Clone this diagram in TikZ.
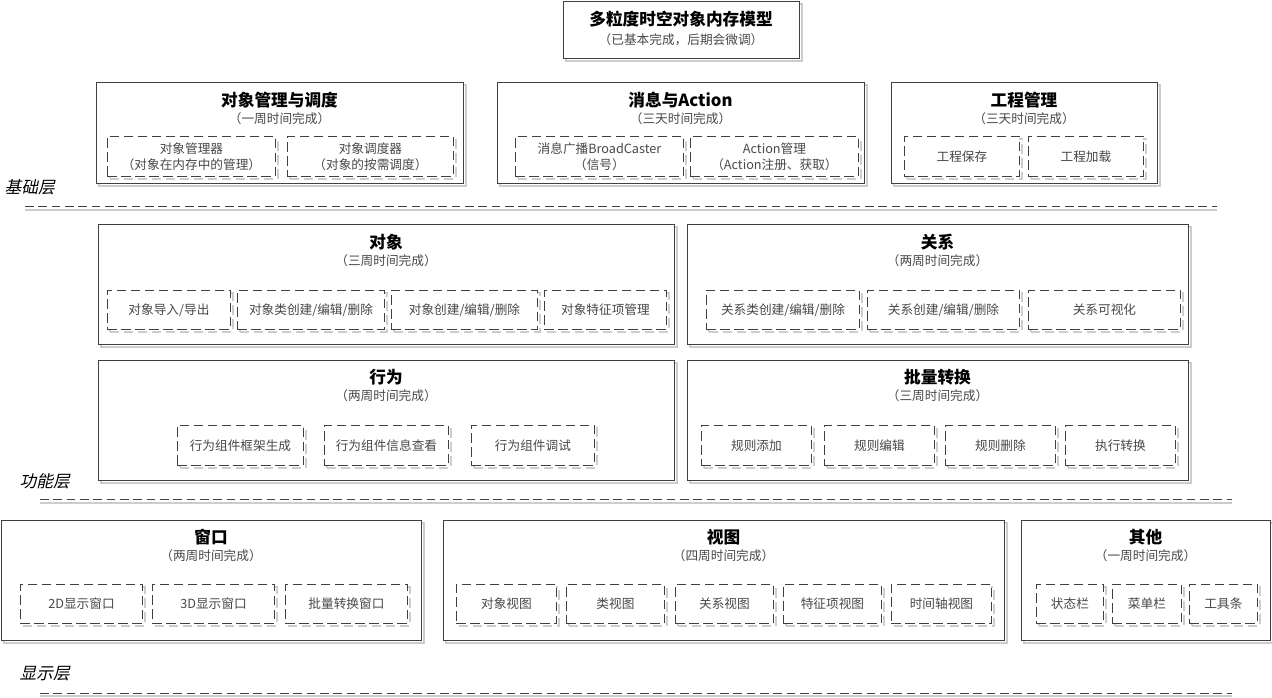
\documentclass[tikz,border=0pt]{standalone}
\usepackage{fontspec}
\setmainfont{Noto Sans CJK SC}
\newfontfamily\tierfont[FakeSlant=0.22]{Noto Sans CJK SC}
\usetikzlibrary{shadows}
\definecolor{edgegray}{RGB}{64,64,64}
\definecolor{shadegray}{RGB}{205,205,205}
\definecolor{notegray}{RGB}{72,72,72}

\begin{document}
\begin{tikzpicture}[
  x=0.75pt, y=-0.75pt,
  boxw/.style={minimum width=#1*0.75pt},
  boxh/.style={minimum height=#1*0.75pt},
  panel/.style={
    draw=edgegray, line width=0.8pt, fill=white, anchor=north west, inner sep=0pt,
    drop shadow={shadow xshift=2pt, shadow yshift=-2pt, fill=none,
      draw=shadegray, line width=1.6pt, opacity=1}
  },
  item/.style={
    draw=edgegray, line width=0.7pt, dash pattern=on 7pt off 3.5pt, fill=white,
    anchor=north west, inner sep=0pt, align=center, text=notegray,
    font=\fontsize{9.5}{12}\selectfont,
    drop shadow={shadow xshift=1.7pt, shadow yshift=-1.7pt, fill=none,
      draw=shadegray, line width=1.4pt, dash pattern=on 7pt off 3.5pt, opacity=1}
  },
  head/.style={font=\bfseries\fontsize{12.5}{15}\selectfont},
  note/.style={font=\fontsize{9.5}{12}\selectfont, text=notegray},
  tier/.style={font=\tierfont\fontsize{12.5}{15}\selectfont, anchor=west},
  tierline/.style={draw=edgegray, line width=0.75pt, dash pattern=on 6.5pt off 3.5pt,
    preaction={draw=shadegray, line width=1.3pt, transform canvas={yshift=-2pt}}}
]
  \useasboundingbox (0,0) rectangle (1272,698);

  % model
  \node[panel, boxw=236, boxh=57] (model) at (563,1) {};
  \node[head] (modelt) at (681,19) {多粒度时空对象内存模型};
  \node[note] (modeln) at (681,40) {（已基本完成，后期会微调）};

  % base tier
  \node[panel, boxw=367, boxh=101] (objmgr) at (96,82) {};
  \node[head] (objmgrt) at (279.5,100) {对象管理与调度};
  \node[note] (objmgrn) at (279.5,119) {（一周时间完成）};
  \node[item, boxw=168, boxh=40] (mgr) at (107,136) {对象管理器\\（对象在内存中的管理）};
  \node[item, boxw=166, boxh=40] (sched) at (287,136) {对象调度器\\（对象的按需调度）};

  \node[panel, boxw=367, boxh=101] (msg) at (497,82) {};
  \node[head] (msgt) at (680.5,100) {消息与Action};
  \node[note] (msgn) at (680.5,119) {（三天时间完成）};
  \node[item, boxw=168, boxh=40] (bcast) at (515,136) {消息广播BroadCaster\\（信号）};
  \node[item, boxw=168, boxh=40] (action) at (690,136) {Action管理\\（Action注册、获取）};

  \node[panel, boxw=266, boxh=101] (proj) at (891,82) {};
  \node[head] (projt) at (1024,100) {工程管理};
  \node[note] (projn) at (1024,119) {（三天时间完成）};
  \node[item, boxw=115, boxh=40] (save) at (904,136) {工程保存};
  \node[item, boxw=115, boxh=40] (load) at (1028,136) {工程加载};

  \node[tier] (base) at (0,187) {基础层};
  \coordinate (basel) at (25,207);
  \coordinate (baser) at (1217,207);
  \draw[tierline] (basel) -- (baser);

  % function tier
  \node[panel, boxw=576, boxh=120] (obj) at (98,224) {};
  \node[head] (objt) at (386,242) {对象};
  \node[note] (objn) at (386,261) {（三周时间完成）};
  \node[item, boxw=123, boxh=39] (imp) at (107,290) {对象导入/导出};
  \node[item, boxw=147, boxh=39] (cls) at (237,290) {对象类创建/编辑/删除};
  \node[item, boxw=146, boxh=39] (inst) at (391,290) {对象创建/编辑/删除};
  \node[item, boxw=122, boxh=39] (feat) at (544,290) {对象特征项管理};

  \node[panel, boxw=501, boxh=120] (rel) at (687,224) {};
  \node[head] (relt) at (937.5,242) {关系};
  \node[note] (reln) at (937.5,261) {（两周时间完成）};
  \node[item, boxw=153, boxh=39] (relcls) at (706,290) {关系类创建/编辑/删除};
  \node[item, boxw=152, boxh=39] (relinst) at (867,290) {关系创建/编辑/删除};
  \node[item, boxw=152, boxh=39] (relvis) at (1028,290) {关系可视化};

  \node[panel, boxw=576, boxh=120] (beh) at (98,360) {};
  \node[head] (beht) at (386,377) {行为};
  \node[note] (behn) at (386,396) {（两周时间完成）};
  \node[item, boxw=126, boxh=40] (frame) at (177,425) {行为组件框架生成};
  \node[item, boxw=124, boxh=40] (info) at (324,425) {行为组件信息查看};
  \node[item, boxw=123, boxh=40] (debug) at (471,425) {行为组件调试};

  \node[panel, boxw=501, boxh=120] (conv) at (687,360) {};
  \node[head] (convt) at (937.5,377) {批量转换};
  \node[note] (convn) at (937.5,396) {（三周时间完成）};
  \node[item, boxw=110, boxh=40] (ruleadd) at (701,425) {规则添加};
  \node[item, boxw=110, boxh=40] (ruleedit) at (824,425) {规则编辑};
  \node[item, boxw=110, boxh=40] (ruledel) at (945,425) {规则删除};
  \node[item, boxw=110, boxh=40] (run) at (1065,425) {执行转换};

  \node[tier] (func) at (15,481) {功能层};
  \coordinate (funcl) at (40,500);
  \coordinate (funcr) at (1232,500);
  \draw[tierline] (funcl) -- (funcr);

  % display tier
  \node[panel, boxw=420, boxh=120] (win) at (1,520) {};
  \node[head] (wint) at (211,537) {窗口};
  \node[note] (winn) at (211,556) {（两周时间完成）};
  \node[item, boxw=122, boxh=39] (win2d) at (20,584) {2D显示窗口};
  \node[item, boxw=122, boxh=39] (win3d) at (152,584) {3D显示窗口};
  \node[item, boxw=122, boxh=39] (wincv) at (285,584) {批量转换窗口};

  \node[panel, boxw=561, boxh=120] (view) at (443,520) {};
  \node[head] (viewt) at (723.5,537) {视图};
  \node[note] (viewn) at (723.5,556) {（四周时间完成）};
  \node[item, boxw=100, boxh=39] (vobj) at (456,584) {对象视图};
  \node[item, boxw=98, boxh=39] (vcls) at (566,584) {类视图};
  \node[item, boxw=98, boxh=39] (vrel) at (675,584) {关系视图};
  \node[item, boxw=98, boxh=39] (vfeat) at (783,584) {特征项视图};
  \node[item, boxw=100, boxh=39] (vtime) at (891,584) {时间轴视图};

  \node[panel, boxw=249, boxh=120] (misc) at (1021,520) {};
  \node[head] (misct) at (1145.5,537) {其他};
  \node[note] (miscn) at (1145.5,556) {（一周时间完成）};
  \node[item, boxw=67, boxh=39] (status) at (1036,584) {状态栏};
  \node[item, boxw=69, boxh=39] (menu) at (1112,584) {菜单栏};
  \node[item, boxw=68, boxh=39] (tools) at (1189,584) {工具条};

  \node[tier] (disp) at (15,674) {显示层};
  \coordinate (displ) at (40,693);
  \coordinate (dispr) at (1232,693);
  \draw[tierline] (displ) -- (dispr);
\end{tikzpicture}
\end{document}
